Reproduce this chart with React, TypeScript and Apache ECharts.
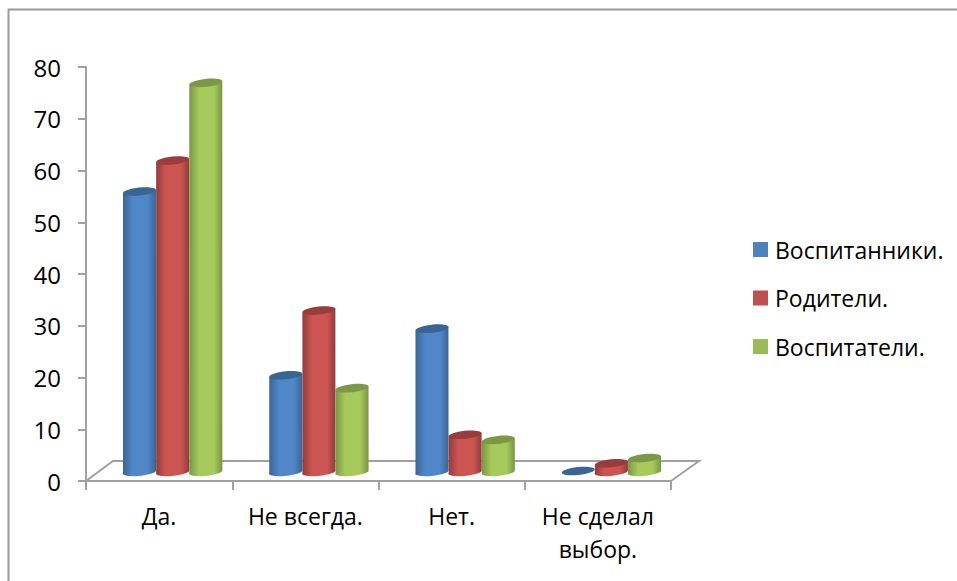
import React, { useEffect, useRef } from "react";
import * as echarts from "echarts";

const categories = ["Да.", "Не всегда.", "Нет.", "Не сделал\nвыбор."];
const pupils = [54, 18.5, 27.5, 0];
const parents = [60, 31, 7, 1.5];
const teachers = [75, 16, 6, 2.5];
const yTicks = [0, 10, 20, 30, 40, 50, 60, 70, 80];

const FONT = "'Open Sans', sans-serif";
const AXIS = "#a0a0a0";
const DEPTH_X = 13.5;
const DEPTH_Y = 10;
const TILT = 6;
const RY = 4;

function cylinder(slot: number, edge: string, mid: string, top: string) {
  return (_: any, api: any) => {
    const cat = api.value(0);
    const val = api.value(1);
    const band = api.size([1, 0])[0];
    const w = band * 0.2267;
    const [cx0, y0] = api.coord([cat, 0]);
    const [, y1] = api.coord([cat, val]);
    const cx = cx0 + DEPTH_X + (slot - 1) * w;
    const baseY = y0 - DEPTH_Y;
    const topY = y1 - DEPTH_Y;
    const rx = w / 2;
    const rad = (TILT * Math.PI) / 180;
    const dy = rx * Math.sin(rad);
    const dx = rx * Math.cos(rad);
    const l = cx - dx;
    const r = cx + dx;
    const body =
      `M${l} ${topY + dy}L${l} ${baseY + dy}` +
      `A${rx} ${RY} ${-TILT} 0 0 ${r} ${baseY - dy}` +
      `L${r} ${topY - dy}` +
      `L${l} ${topY + dy}Z`;
    const children: any[] = [];
    if (val > 0) {
      children.push({
        type: "path",
        shape: { pathData: body },
        style: {
          fill: new echarts.graphic.LinearGradient(0, 0, 1, 0, [
            { offset: 0, color: edge },
            { offset: 0.3, color: mid },
            { offset: 0.75, color: mid },
            { offset: 1, color: edge },
          ]),
        },
      });
    }
    children.push({
      type: "ellipse",
      x: cx,
      y: topY,
      rotation: rad,
      shape: { cx: 0, cy: 0, rx, ry: RY },
      style: { fill: top },
    });
    return { type: "group", children };
  };
}

const seriesDefs = [
  { name: "Воспитанники.", values: pupils, color: "#4f81bd", edge: "#3a6494", mid: "#5087c8", top: "#386592" },
  { name: "Родители.", values: parents, color: "#c0504d", edge: "#8f3c3a", mid: "#cc5552", top: "#983d3b" },
  { name: "Воспитатели.", values: teachers, color: "#9bbb59", edge: "#7a9444", mid: "#a6ca5c", top: "#7c9745" },
];

export default function App() {
  const ref = useRef<HTMLDivElement>(null);
  useEffect(() => {
    const chart = echarts.init(ref.current!, undefined, { renderer: "svg" });
    chart.setOption({
      animation: false,
      backgroundColor: "#ffffff",
      textStyle: { fontFamily: FONT },
      grid: { left: 86, top: 67, width: 585, height: 414 },
      xAxis: {
        type: "category",
        data: categories,
        axisLine: { lineStyle: { color: AXIS, width: 2 } },
        axisTick: { show: true, length: 9, lineStyle: { color: AXIS, width: 2 } },
        axisLabel: { color: "#000", fontSize: 23, fontFamily: FONT, margin: 18, lineHeight: 33, interval: 0 },
      },
      yAxis: {
        type: "value",
        min: yTicks[0],
        max: yTicks[yTicks.length - 1],
        interval: yTicks[1] - yTicks[0],
        splitLine: { show: false },
        axisLine: { show: true, lineStyle: { color: AXIS, width: 2 } },
        axisTick: { show: true, length: 8, lineStyle: { color: AXIS, width: 2 } },
        axisLabel: { color: "#000", fontSize: 24, fontFamily: FONT, margin: 25 },
      },
      legend: {
        orient: "vertical",
        left: 753,
        top: 238,
        itemWidth: 15,
        itemHeight: 15,
        itemGap: 25.5,
        icon: "rect",
        data: seriesDefs.map((s) => s.name),
        textStyle: { color: "#000", fontSize: 23, lineHeight: 23, fontFamily: FONT, padding: [0, 0, 0, 2] },
        padding: 0,
      },
      graphic: [
        {
          type: "polyline",
          z: 0,
          shape: { points: [[8.5, 581], [8.5, 9.5], [957, 9.5]] },
          style: { stroke: "#9a9a9a", fill: "none", lineWidth: 2 },
        },
        {
          type: "polyline",
          z: 0,
          shape: { points: [[86, 481], [113, 461], [699, 461], [671, 481]] },
          style: { stroke: AXIS, fill: "none", lineWidth: 2 },
        },
      ],
      series: seriesDefs.map((s, i) => ({
        type: "custom",
        name: s.name,
        itemStyle: { color: s.color },
        renderItem: cylinder(i, s.edge, s.mid, s.top),
        encode: { x: 0, y: 1 },
        data: s.values.map((v, c) => [c, v]),
        clip: false,
        z: 5 + i,
      })),
    });
    return () => chart.dispose();
  }, []);
  return (
    <div
      ref={ref}
      style={{ position: "absolute", left: 0, top: 0, width: 957, height: 581, background: "#fff" }}
    />
  );
}
